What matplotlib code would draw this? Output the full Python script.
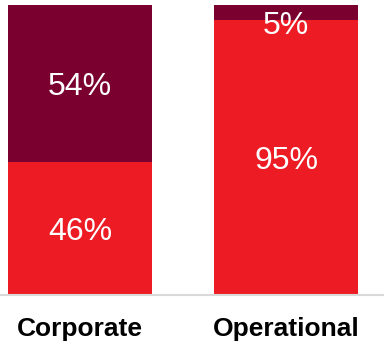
import matplotlib
matplotlib.use("Agg")
import matplotlib.pyplot as plt

categories = ["Corporate", "Operational"]
bottom_vals = [46, 95]
top_vals = [54, 5]
bottom_color = "#ED1C24"
top_color = "#7A0030"

plt.rcParams['font.family'] = ['Liberation Sans', 'DejaVu Sans']

fig = plt.figure(figsize=(3.84, 3.42), dpi=100)
W, H = 384, 342
ax = fig.add_axes([0, (342 - 295) / H, 1, 290 / H])

x = list(range(len(categories)))
ax.bar(x, bottom_vals, width=0.7, color=bottom_color, linewidth=0)
ax.bar(x, top_vals, width=0.7, bottom=bottom_vals, color=top_color, linewidth=0)

def label(xi, y, val, small):
    off = -10 if small else -2.5
    ax.annotate(f"{val}%", (xi, y), xytext=(0, off), textcoords="offset points",
                ha="center", va="center", color="white", fontsize=23)

for i in x:
    label(i, bottom_vals[i] / 2, bottom_vals[i], bottom_vals[i] < 10)
    label(i, bottom_vals[i] + top_vals[i] / 2, top_vals[i], top_vals[i] < 10)

ax.set_xlim(-0.35 - 8 / 206, 1 + 98 / 206)
ax.set_ylim(0, 100)
for s in ["top", "left", "right"]:
    ax.spines[s].set_visible(False)
ax.spines["bottom"].set_color("#D9D9D9")
ax.spines["bottom"].set_linewidth(1.5)
ax.set_yticks([])
ax.set_xticks(x)
ax.set_xticklabels(categories, fontsize=19, fontweight="bold")
ax.tick_params(axis="x", length=0, pad=16)
ax.patch.set_alpha(0)

fig.savefig("out.png", dpi=100)
